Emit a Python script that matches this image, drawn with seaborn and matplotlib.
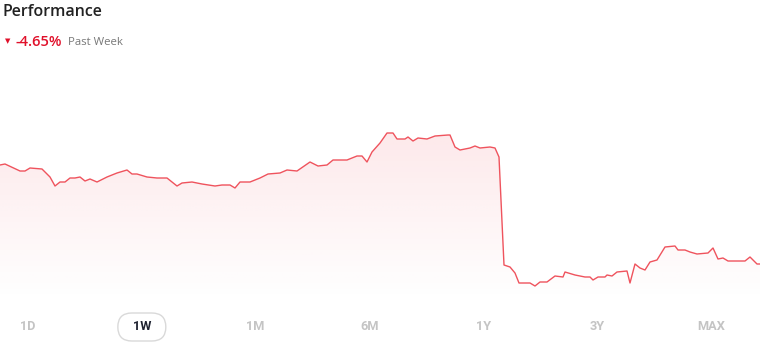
import numpy as np
import matplotlib
matplotlib.use("Agg")
import matplotlib.pyplot as plt
import seaborn as sns
from matplotlib.patches import FancyBboxPatch, Polygon

# ---- data ----
t = [0, 5, 20, 25, 30, 42, 50, 55, 60, 65, 70, 75, 80, 85, 90, 97, 107, 117, 127, 132,
     137, 147, 157, 167, 177, 182, 192, 202, 215, 222, 230, 235, 240, 250, 260, 268, 280, 287, 297, 310,
     318, 327, 333, 347, 357, 362, 367, 372, 380, 387, 393, 397, 405, 408, 413, 418, 427, 435, 448, 450,
     455, 460, 470, 475, 480, 490, 495, 499, 504, 510, 515, 519, 530, 535, 540, 547, 555, 563, 565, 575,
     585, 590, 593, 598, 605, 607, 612, 617, 627, 630, 635, 640, 645, 650, 657, 665, 675, 678, 685, 690,
     697, 708, 713, 718, 723, 728, 745, 750, 757, 760]
price = [23.5, 23.6, 22.9, 22.9, 23.2, 23.1, 22.3, 21.4, 21.8, 21.8, 22.2, 22.2, 22.3, 21.9, 22.1, 21.8, 22.3, 22.7, 23.0, 22.6,
         22.6, 22.3, 22.2, 22.2, 21.4, 21.7, 21.8, 21.6, 21.4, 21.5, 21.5, 21.2, 21.8, 21.8, 22.2, 22.6, 22.7, 23.0, 22.9, 23.8,
         23.4, 23.5, 24.0, 24.0, 24.4, 24.4, 23.8, 24.8, 25.7, 26.7, 26.7, 26.1, 26.1, 26.3, 25.9, 26.2, 26.1, 26.4, 26.5, 26.5,
         25.3, 25.0, 25.2, 25.4, 25.2, 25.3, 25.2, 24.3, 13.5, 13.3, 12.7, 11.7, 11.7, 11.4, 11.8, 11.8, 12.4, 12.3, 12.8, 12.5,
         12.3, 12.3, 12.0, 12.3, 12.3, 12.5, 12.4, 12.8, 12.9, 11.7, 13.6, 13.2, 13.0, 13.8, 14.0, 15.3, 15.4, 15.0, 15.0, 14.8,
         14.6, 14.7, 15.2, 14.1, 14.2, 13.9, 13.9, 14.3, 13.6, 13.6]
tabs = ["1D", "1W", "1M", "6M", "1Y", "3Y", "MAX"]
active_tab = "1W"
change_text = "-4.65%"
period_text = "Past Week"
title_text = "Performance"

LINE = "#ef535d"
RED = "#e0102a"

sns.set_theme(style="white")
plt.rcParams['font.family'] = ['Open Sans', 'DejaVu Sans']

fig = plt.figure(figsize=(7.6, 3.48), dpi=100)
ax = fig.add_axes([0, 48 / 348, 1, 200 / 348])
ax.set_xlim(0, 760)
ax.set_ylim(10, 30)

sns.lineplot(x=t, y=price, ax=ax, color=LINE, linewidth=1.0, estimator=None, sort=False)
for ln in ax.lines:
    ln.set_solid_joinstyle('round')

# gradient fill under the line
top_val = 27.0
grad = np.zeros((256, 2, 4))
grad[..., 0] = 240 / 255
grad[..., 1] = 64 / 255
grad[..., 2] = 80 / 255
grad[..., 3] = np.linspace(0.12, 0.0, 256)[:, None]
im = ax.imshow(grad, extent=(0, 760, 10, top_val), aspect='auto', origin='upper',
               interpolation='bilinear', zorder=1)
verts = [(t[0], 10)] + list(zip(t, price)) + [(t[-1], 10)]
clip = Polygon(verts, closed=True, transform=ax.transData, facecolor='none', edgecolor='none')
ax.add_patch(clip)
im.set_clip_path(clip)

ax.set_axis_off()

# header texts
fig.text(3 / 760, 1 - 12 / 348, title_text, fontsize=11.5, fontweight='semibold',
         color='#222222', va='center', ha='left')
fig.text(5 / 760, 1 - 41 / 348, "\u25BC", fontsize=5, color=RED, va='center', ha='left',
         family=['DejaVu Sans'])
fig.text(15 / 760, 1 - 42 / 348, change_text, fontsize=10.5, fontweight='semibold',
         color=RED, va='center', ha='left')
fig.text(68 / 760, 1 - 42.5 / 348, period_text, fontsize=8.2, color='#777777', va='center', ha='left')

# tab buttons
tab_x = np.linspace(28, 711, len(tabs))
for lab, xx in zip(tabs, tab_x):
    active = lab == active_tab
    fig.text(xx / 760, 1 - 327 / 348, lab, fontsize=9.2, fontweight='bold',
             color='#1e2230' if active else '#c4c4c4', va='center', ha='center',
             family=['Roboto', 'DejaVu Sans'])
    if active:
        w, h = 48, 28
        box = FancyBboxPatch((xx - w / 2, 348 - 327 - h / 2), w, h,
                             boxstyle="round,pad=0,rounding_size=14",
                             transform=None, facecolor='none', edgecolor='#d9d9d9',
                             linewidth=1.0)
        fig.add_artist(box)

fig.savefig("out.png", dpi=100)
